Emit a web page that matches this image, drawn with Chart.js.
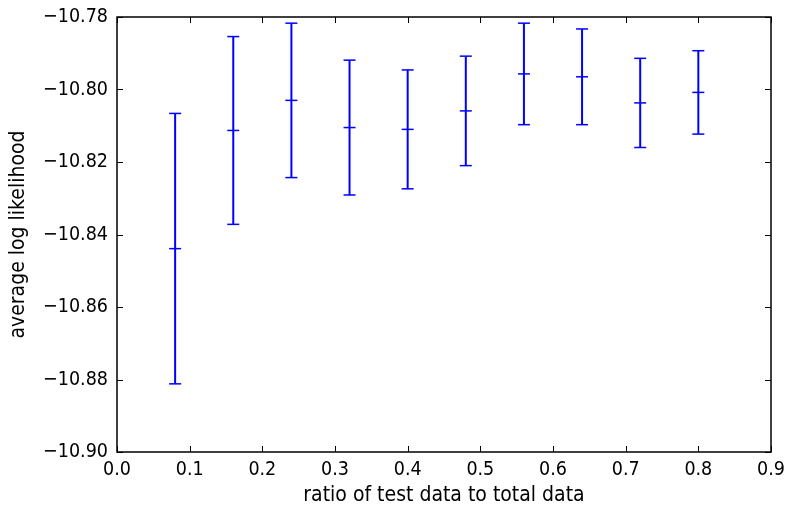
<!DOCTYPE html>
<html>
<head>
<meta charset="utf-8">
<script src="https://cdn.jsdelivr.net/npm/chart.js@4/dist/chart.umd.min.js"></script>
<style>
  html, body { margin: 0; padding: 0; background: #fff; }
  #wrap { width: 785px; height: 508px; }
</style>
</head>
<body>
<div id="wrap"><canvas id="chart"></canvas></div>
<script>
// data
const ratios = [0.08, 0.16, 0.24, 0.32, 0.40, 0.48, 0.56, 0.64, 0.72, 0.80];
const meanLL = [-10.8439, -10.8113, -10.8030, -10.8105, -10.8110, -10.8059, -10.7957, -10.7965, -10.8037, -10.8008];
const errLL  = [0.0373, 0.0259, 0.0213, 0.0186, 0.0164, 0.0151, 0.0140, 0.0132, 0.0123, 0.0115];

const xTicks = { min: 0, max: 0.9, step: 0.1 };
const yTicks = { min: -10.90, max: -10.78, step: 0.02 };

const blue = '#0000ff';
const fontFamily = '"DejaVu Sans Condensed", "DejaVu Sans"';

// one small line per error bar, caps drawn as 'line' point markers
const errorSets = ratios.map((x, i) => ({
    data: [{ x: x, y: meanLL[i] - errLL[i] }, { x: x, y: meanLL[i] + errLL[i] }],
    showLine: true,
    borderColor: blue,
    borderWidth: 2,
    pointStyle: 'line',
    pointRadius: 6,
    pointBorderWidth: 1.5,
    pointBorderColor: blue
}));

const meanSet = {
    data: ratios.map((x, i) => ({ x: x, y: meanLL[i] })),
    showLine: false,
    pointStyle: 'line',
    pointRadius: 6,
    pointBorderWidth: 1.5,
    pointBorderColor: blue
};

const minus = s => s.replace('-', '\u2212');

// inward ticks on all four sides + full frame
const frameTicks = {
    id: 'frameTicks',
    afterDraw(chart) {
        const { ctx, chartArea: a, scales } = chart;
        const len = 6;
        ctx.save();
        ctx.strokeStyle = '#000';
        ctx.lineWidth = 1;
        ctx.beginPath();
        scales.x.ticks.forEach((t, i) => {
            const px = Math.round(scales.x.getPixelForTick(i)) + 0.5;
            ctx.moveTo(px, a.bottom); ctx.lineTo(px, a.bottom - len);
            ctx.moveTo(px, a.top); ctx.lineTo(px, a.top + len);
        });
        scales.y.ticks.forEach((t, i) => {
            const py = Math.round(scales.y.getPixelForTick(i)) + 0.5;
            ctx.moveTo(a.left, py); ctx.lineTo(a.left + len, py);
            ctx.moveTo(a.right, py); ctx.lineTo(a.right - len, py);
        });
        ctx.stroke();
        ctx.lineWidth = 1.5;
        ctx.strokeRect(a.left, a.top, a.right - a.left, a.bottom - a.top);
        ctx.restore();
    }
};

new Chart(document.getElementById('chart'), {
    type: 'scatter',
    data: { datasets: [...errorSets, meanSet] },
    options: {
        responsive: true,
        maintainAspectRatio: false,
        animation: false,
        layout: { padding: { top: 17, right: 14, left: 0, bottom: 0 } },
        plugins: { legend: { display: false }, tooltip: { enabled: false } },
        scales: {
            x: {
                type: 'linear',
                min: xTicks.min, max: xTicks.max,
                grid: { display: false, drawTicks: false },
                border: { display: false },
                ticks: {
                    stepSize: xTicks.step, color: '#000', padding: 6,
                    font: { family: fontFamily, size: 19.5 },
                    callback: v => v.toFixed(1)
                },
                title: {
                    display: true, text: 'ratio of test data to total data', color: '#000',
                    font: { family: fontFamily, size: 21 }, padding: { top: 5, bottom: 0 }
                },
                afterFit: s => { s.height = 56; s.paddingLeft = 0; s.paddingRight = 0; }
            },
            y: {
                type: 'linear',
                min: yTicks.min, max: yTicks.max,
                grid: { display: false, drawTicks: false },
                border: { display: false },
                ticks: {
                    stepSize: yTicks.step, color: '#000', padding: 9,
                    font: { family: fontFamily, size: 19.5 },
                    callback: v => minus(v.toFixed(2))
                },
                title: {
                    display: true, text: 'average log likelihood', color: '#000',
                    font: { family: fontFamily, size: 21 }, padding: { top: 6, bottom: 0 }
                },
                afterFit: s => { s.width = 117; s.paddingTop = 0; s.paddingBottom = 0; }
            }
        }
    },
    plugins: [frameTicks]
});
</script>
</body>
</html>
